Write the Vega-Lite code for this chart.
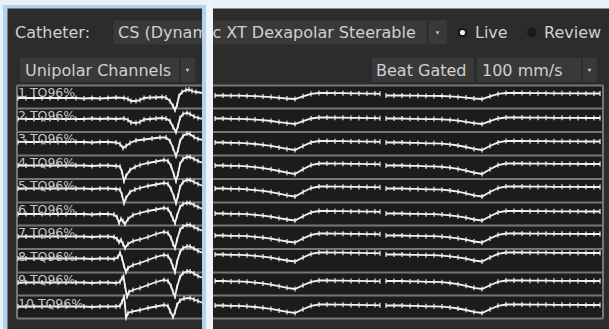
{
  "$schema": "https://vega.github.io/schema/vega-lite/v6.json",
  "width": 609,
  "height": 329,
  "autosize": {"type": "fit", "contains": "padding"},
  "padding": 0,
  "background": "#e9f1f8",
  "config": {"view": {"stroke": null}},
  "datasets": {
    "rects": [
      {"kind": "glow", "x": 3, "x2": 206, "y": 5, "y2": 329},
      {"kind": "panel", "x": 7.5, "x2": 609, "y": 8.5, "y2": 329},
      {"kind": "button", "x": 113.5, "x2": 447, "y": 20.5, "y2": 44.5},
      {"kind": "button", "x": 20, "x2": 195, "y": 58, "y2": 82},
      {"kind": "button", "x": 372, "x2": 474, "y": 58, "y2": 82},
      {"kind": "button", "x": 477, "x2": 597, "y": 58, "y2": 82},
      {"kind": "plot", "x": 17, "x2": 603, "y": 85.5, "y2": 318.5}
    ],
    "strips": [
      {"kind": "glow", "x": 202, "x2": 206, "y": 5, "y2": 329},
      {"kind": "gap", "x": 206, "x2": 213, "y": 0, "y2": 329}
    ],
    "rules": [
      {"kind": "sep", "x": 17, "x2": 603, "y": 85.5, "y2": 85.5},
      {"kind": "sep", "x": 17, "x2": 603, "y": 108.5, "y2": 108.5},
      {"kind": "sep", "x": 17, "x2": 603, "y": 132, "y2": 132},
      {"kind": "sep", "x": 17, "x2": 603, "y": 155.5, "y2": 155.5},
      {"kind": "sep", "x": 17, "x2": 603, "y": 179, "y2": 179},
      {"kind": "sep", "x": 17, "x2": 603, "y": 202.5, "y2": 202.5},
      {"kind": "sep", "x": 17, "x2": 603, "y": 225.5, "y2": 225.5},
      {"kind": "sep", "x": 17, "x2": 603, "y": 249, "y2": 249},
      {"kind": "sep", "x": 17, "x2": 603, "y": 272.5, "y2": 272.5},
      {"kind": "sep", "x": 17, "x2": 603, "y": 295.5, "y2": 295.5},
      {"kind": "sep", "x": 17, "x2": 603, "y": 318.5, "y2": 318.5},
      {"kind": "sep", "x": 17, "x2": 17, "y": 85.5, "y2": 318.5},
      {"kind": "sep", "x": 603, "x2": 603, "y": 85.5, "y2": 318.5},
      {"kind": "btnsep", "x": 427.5, "x2": 427.5, "y": 21, "y2": 44},
      {"kind": "btnsep", "x": 180, "x2": 180, "y": 58.5, "y2": 81.5},
      {"kind": "btnsep", "x": 582, "x2": 582, "y": 58.5, "y2": 81.5}
    ],
    "points": [
      {"kind": "ring", "x": 462.5, "y": 32.5},
      {"kind": "ring", "x": 532, "y": 32.5},
      {"kind": "dot", "x": 462.5, "y": 32.5},
      {"kind": "arrow", "x": 437.5, "y": 33},
      {"kind": "arrow", "x": 187.5, "y": 70.5},
      {"kind": "arrow", "x": 589.5, "y": 70.5}
    ],
    "texts": [
      {"kind": "ui", "text": "Catheter:", "x": 15, "y": 37.5},
      {"kind": "ui", "text": "CS (Dynamic XT Dexapolar Steerable", "x": 118, "y": 37.5},
      {"kind": "ui", "text": "Live", "x": 475, "y": 37.5},
      {"kind": "ui", "text": "Review", "x": 544, "y": 37.5},
      {"kind": "ui", "text": "Unipolar Channels", "x": 25, "y": 75.5},
      {"kind": "ui", "text": "Beat Gated", "x": 376, "y": 75.5},
      {"kind": "ui", "text": "100 mm/s", "x": 482, "y": 75.5},
      {"kind": "chan", "text": "1 TQ96%", "x": 18, "y": 96.5},
      {"kind": "chan", "text": "2 TQ96%", "x": 18, "y": 119.5},
      {"kind": "chan", "text": "3 TQ96%", "x": 18, "y": 143},
      {"kind": "chan", "text": "4 TQ96%", "x": 18, "y": 166.5},
      {"kind": "chan", "text": "5 TQ96%", "x": 18, "y": 189.5},
      {"kind": "chan", "text": "6 TQ96%", "x": 18, "y": 213.5},
      {"kind": "chan", "text": "7 TQ96%", "x": 18, "y": 237},
      {"kind": "chan", "text": "8 TQ96%", "x": 18, "y": 260.5},
      {"kind": "chan", "text": "9 TQ96%", "x": 18, "y": 284},
      {"kind": "chan", "text": "10 TQ96%", "x": 18, "y": 307.5}
    ],
    "traces": [
      {"id": "L1", "xs": [18,26,34,42,50,58,66,76,84,92,100,108,116,124,128,131,136,140,144,150,156,162,166,170,173,175,177,179,182,186,189,192,196,203],
       "ys": [98,98,98,98,98,98,98,98,98.5,98,98.5,98,97.5,98,99,101,101,100,98,97.5,97.5,97,97.5,101,106,110,105,96,92,90,89.5,91,92,93]},
      {"id": "L2", "xs": [18,26,34,42,50,58,66,76,84,92,100,108,116,124,128,131,136,140,144,150,156,162,166,170,173,176,178,180,183,187,190,194,198,203],
       "ys": [119,119,119,119,119,119,119,119,119,118.5,119,118.5,119,118.5,120,122.5,123,122,119.5,119,118.5,118,118.5,121,127,132,126,118,114,113,114,116.5,118,119]},
      {"id": "L3", "xs": [18,26,34,42,50,58,66,76,84,92,100,108,116,120,123,126,130,136,144,152,160,166,170,173,176,178,180,183,187,190,194,198,203],
       "ys": [142,142,142,142,142,142,142,142,142,142.5,142,142,142.5,144,148,146,143,140.5,139.5,138.5,137.5,137.5,141,148,156,150,141,136,133.5,134,137,139,140]},
      {"id": "L4", "xs": [18,26,34,42,50,58,66,76,84,92,100,108,116,120,122,124,126,130,135,140,148,156,164,168,171,174,176,178,180,183,187,190,194,198,203],
       "ys": [165.5,165.5,165.5,165.5,165.5,165.5,165.5,165.5,165.5,166,165.5,165.5,166,166.5,172,181,176,170,167,165,163,161.5,160,161,166,175,181,174,164,159,157,157,159,161,163]},
      {"id": "L5", "xs": [18,26,34,42,50,58,66,76,84,92,100,108,116,120,122,124,126,130,135,140,148,156,164,168,171,174,176,178,180,183,187,190,194,198,203],
       "ys": [188.5,188.5,188.5,188.5,188.5,188.5,188.5,188.5,188.5,189,188.5,188.5,189,189.5,195,203,198,192,189.5,188,186,184.5,183,184,189,197,203,196,187,182,180,180,182,184,186]},
      {"id": "L6", "xs": [18,26,34,42,50,58,66,76,84,92,100,108,114,117,119,121,123,125,128,133,140,148,156,164,168,171,173,175,177,180,183,187,190,194,198,203],
       "ys": [214,214,214,214,214,214,214,214,214,214.5,214,214,214.5,217,223,219,221,224,219,215,213,211,209.5,208,209,214,219,223,216,207,204,203,203,205,207,209]},
      {"id": "L7", "xs": [18,26,34,42,50,58,66,76,84,92,100,108,114,117,119,121,123,125,128,133,140,148,156,164,168,171,173,175,177,180,183,187,190,194,198,203],
       "ys": [236.5,236.5,236.5,236.5,236.5,236.5,236.5,236.5,236.5,237,236.5,236.5,237,239,242,240,244,248,244,241,239.5,237,234,232,233,238,244,248,240,230,226.5,225,225,227,229,231]},
      {"id": "L8", "xs": [18,26,34,42,50,58,66,76,84,92,100,108,114,118,120,122,124,126,128,133,140,148,156,164,168,171,173,175,177,180,183,187,190,194,198,203],
       "ys": [258.5,258.5,258.5,258.5,258.5,258.5,258.5,258.5,258.5,259,258.5,258.5,259,257,253,258,266,272,268,265,263,260,257,255,256,261,267,272,262,252,248,246.5,246.5,248.5,251,253]},
      {"id": "L9", "xs": [18,26,34,42,50,58,66,76,84,92,100,108,116,120,122,123.5,125,127,129,133,140,148,156,164,168,171,173,175,177,180,183,187,190,194,198,203],
       "ys": [282.5,282.5,282.5,282.5,282.5,282.5,282.5,282.5,282.5,283,282.5,282.5,283,282,278,276.5,286,296.5,292,290,288,285,282,280,281,286,292,296.5,287,277,273,271.5,271.5,273.5,276,278]},
      {"id": "L10", "xs": [18,26,34,42,50,58,66,76,84,92,100,108,116,120,122,124,125,126,128,132,140,148,156,164,168,170,173,175,177,180,184,190,194,198,203],
       "ys": [306.5,306.5,306.5,306.5,306.5,306.5,306.5,306.5,306.5,307,306.5,306.5,306.5,306,302,296.5,305,318,313,311.5,310,308,306.5,305,306,311,317,312,305,300.5,298.5,298,299.5,301,303]},
      {"id": "R1a", "xs": [215,223,231,239,247,255,263,271,279,287,295,303,311,319,327,335,343,351,359,367,375,380],
       "ys": [95.5,95.5,95.7,95.7,95.9,96.2,96.6,97.1,97.8,98.5,99,96.3,93.9,93,93,93.2,93.2,93.4,93.4,93.6,93.6,93.8]},
      {"id": "R1b", "xs": [386,394,402,410,418,426,434,442,450,458,466,474,482,490,498,506,514,522,530,538,546,554,562,570,578,586,594,600],
       "ys": [95.5,95.5,95.5,95.7,95.7,95.9,95.9,96,96.4,96.9,97.6,98.5,99,96.3,93.9,93,93,93,93.2,93.2,93.2,93.3,93.3,93.4,93.4,93.5,93.5,93.5]},
      {"id": "R2a", "xs": [215,223,231,239,247,255,263,271,279,287,295,303,311,319,327,335,343,351,359,367,375,380],
       "ys": [118.5,118.5,118.8,118.8,119.1,119.6,120.2,121,122.1,123.2,124,121.1,118.5,117.5,117.5,117.7,117.7,117.9,117.9,118.1,118.1,118.3]},
      {"id": "R2b", "xs": [386,394,402,410,418,426,434,442,450,458,466,474,482,490,498,506,514,522,530,538,546,554,562,570,578,586,594,600],
       "ys": [118.5,118.5,118.5,118.8,118.8,119.1,119.1,119.3,119.9,120.7,121.8,123.2,124,121.1,118.5,117.5,117.5,117.5,117.7,117.7,117.7,117.8,117.8,117.9,117.9,118,118,118]},
      {"id": "R3a", "xs": [215,223,231,239,247,255,263,271,279,287,295,303,311,319,327,335,343,351,359,367,375,380],
       "ys": [142.5,142.5,142.9,142.9,143.3,144,144.8,145.9,147.4,148.9,150,146,142.4,141,141,141.2,141.2,141.4,141.4,141.6,141.6,141.8]},
      {"id": "R3b", "xs": [386,394,402,410,418,426,434,442,450,458,466,474,482,490,498,506,514,522,530,538,546,554,562,570,578,586,594,600],
       "ys": [142.5,142.5,142.5,142.9,142.9,143.3,143.3,143.6,144.4,145.5,147,148.9,150,146,142.4,141,141,141,141.2,141.2,141.2,141.3,141.3,141.4,141.4,141.5,141.5,141.5]},
      {"id": "R4a", "xs": [215,223,231,239,247,255,263,271,279,287,295,303,311,319,327,335,343,351,359,367,375,380],
       "ys": [165.5,165.5,165.9,165.9,166.4,167.2,168.1,169.3,171,172.7,174,169.3,165.1,163.5,163.5,163.7,163.7,163.9,163.9,164.1,164.1,164.3]},
      {"id": "R4b", "xs": [386,394,402,410,418,426,434,442,450,458,466,474,482,490,498,506,514,522,530,538,546,554,562,570,578,586,594,600],
       "ys": [165.5,165.5,165.5,165.9,165.9,166.4,166.4,166.8,167.6,168.9,170.6,172.7,174,169.3,165.1,163.5,163.5,163.5,163.7,163.7,163.7,163.8,163.8,163.9,163.9,164,164,164]},
      {"id": "R5a", "xs": [215,223,231,239,247,255,263,271,279,287,295,303,311,319,327,335,343,351,359,367,375,380],
       "ys": [188.5,188.5,188.9,188.9,189.3,190.1,190.9,192.1,193.7,195.3,196.5,192,188,186.5,186.5,186.7,186.7,186.9,186.9,187.1,187.1,187.3]},
      {"id": "R5b", "xs": [386,394,402,410,418,426,434,442,450,458,466,474,482,490,498,506,514,522,530,538,546,554,562,570,578,586,594,600],
       "ys": [188.5,188.5,188.5,188.9,188.9,189.3,189.3,189.7,190.5,191.7,193.3,195.3,196.5,192,188,186.5,186.5,186.5,186.7,186.7,186.7,186.8,186.8,186.9,186.9,187,187,187]},
      {"id": "R6a", "xs": [215,223,231,239,247,255,263,271,279,287,295,303,311,319,327,335,343,351,359,367,375,380],
       "ys": [213.5,213.5,213.9,213.9,214.2,214.9,215.6,216.7,218.1,219.5,220.5,216.2,212.4,211,211,211.2,211.2,211.4,211.4,211.6,211.6,211.8]},
      {"id": "R6b", "xs": [386,394,402,410,418,426,434,442,450,458,466,474,482,490,498,506,514,522,530,538,546,554,562,570,578,586,594,600],
       "ys": [213.5,213.5,213.5,213.9,213.9,214.2,214.2,214.6,215.3,216.3,217.7,219.5,220.5,216.2,212.4,211,211,211,211.2,211.2,211.2,211.3,211.3,211.4,211.4,211.5,211.5,211.5]},
      {"id": "R7a", "xs": [215,223,231,239,247,255,263,271,279,287,295,303,311,319,327,335,343,351,359,367,375,380],
       "ys": [235.5,235.5,235.9,235.9,236.2,236.9,237.6,238.7,240.1,241.5,242.5,238.5,234.9,233.5,233.5,233.7,233.7,233.9,233.9,234.1,234.1,234.3]},
      {"id": "R7b", "xs": [386,394,402,410,418,426,434,442,450,458,466,474,482,490,498,506,514,522,530,538,546,554,562,570,578,586,594,600],
       "ys": [235.5,235.5,235.5,235.9,235.9,236.2,236.2,236.6,237.3,238.3,239.7,241.5,242.5,238.5,234.9,233.5,233.5,233.5,233.7,233.7,233.7,233.8,233.8,233.9,233.9,234,234,234]},
      {"id": "R8a", "xs": [215,223,231,239,247,255,263,271,279,287,295,303,311,319,327,335,343,351,359,367,375,380],
       "ys": [254.5,254.5,254.9,254.9,255.2,255.9,256.6,257.7,259.1,260.5,261.5,257.5,253.9,252.5,252.5,252.7,252.7,252.9,252.9,253.1,253.1,253.3]},
      {"id": "R8b", "xs": [386,394,402,410,418,426,434,442,450,458,466,474,482,490,498,506,514,522,530,538,546,554,562,570,578,586,594,600],
       "ys": [254.5,254.5,254.5,254.9,254.9,255.2,255.2,255.6,256.3,257.3,258.7,260.5,261.5,257.5,253.9,252.5,252.5,252.5,252.7,252.7,252.7,252.8,252.8,252.9,252.9,253,253,253]},
      {"id": "R9a", "xs": [215,223,231,239,247,255,263,271,279,287,295,303,311,319,327,335,343,351,359,367,375,380],
       "ys": [281,281,281.4,281.4,281.8,282.6,283.4,284.6,286.2,287.8,289,285.2,281.8,280.5,280.5,280.7,280.7,280.9,280.9,281.1,281.1,281.3]},
      {"id": "R9b", "xs": [386,394,402,410,418,426,434,442,450,458,466,474,482,490,498,506,514,522,530,538,546,554,562,570,578,586,594,600],
       "ys": [281,281,281,281.4,281.4,281.8,281.8,282.2,283,284.2,285.8,287.8,289,285.2,281.8,280.5,280.5,280.5,280.7,280.7,280.7,280.8,280.8,280.9,280.9,281,281,281]},
      {"id": "R10a", "xs": [215,223,231,239,247,255,263,271,279,287,295,303,311,319,327,335,343,351,359,367,375,380],
       "ys": [305.5,305.5,305.9,305.9,306.3,307,307.8,308.9,310.4,311.9,313,309.2,305.8,304.5,304.5,304.7,304.7,304.9,304.9,305.1,305.1,305.3]},
      {"id": "R10b", "xs": [386,394,402,410,418,426,434,442,450,458,466,474,482,490,498,506,514,522,530,538,546,554,562,570,578,586,594,600],
       "ys": [305.5,305.5,305.5,305.9,305.9,306.3,306.3,306.6,307.4,308.5,310,311.9,313,309.2,305.8,304.5,304.5,304.5,304.7,304.7,304.7,304.8,304.8,304.9,304.9,305,305,305]}
    ]
  },
  "encoding": {
    "x": {"field": "x", "type": "quantitative", "scale": {"domain": [0, 609], "nice": false, "zero": false}, "axis": null},
    "y": {"field": "y", "type": "quantitative", "scale": {"domain": [0, 329], "reverse": true, "nice": false, "zero": false}, "axis": null},
    "color": {
      "field": "kind", "type": "nominal", "legend": null,
      "scale": {
        "domain": ["glow", "gap", "panel", "button", "plot", "sep", "btnsep", "ui", "chan", "ring", "dot", "arrow"],
        "range": ["#b5d1eb", "#edf3f9", "#2c2c2c", "#393939", "#1c1c1c", "#767676", "#282828", "#d0d0d0", "#c4c4c4", "#1a1a1a", "#f4f4f4", "#bdbdbd"]
      }
    }
  },
  "layer": [
    {
      "data": {"name": "rects"},
      "mark": {"type": "rect", "strokeWidth": 0},
      "encoding": {"x2": {"field": "x2"}, "y2": {"field": "y2"}}
    },
    {
      "data": {"name": "rules"},
      "transform": [{"filter": "datum.kind === 'sep'"}],
      "mark": {"type": "rule", "strokeWidth": 2},
      "encoding": {"x2": {"field": "x2"}, "y2": {"field": "y2"}}
    },
    {
      "data": {"name": "rules"},
      "transform": [{"filter": "datum.kind === 'btnsep'"}],
      "mark": {"type": "rule", "strokeWidth": 1.5},
      "encoding": {"x2": {"field": "x2"}, "y2": {"field": "y2"}}
    },
    {
      "data": {"name": "traces"},
      "transform": [{"flatten": ["xs", "ys"], "as": ["x", "y"]}],
      "mark": {"type": "line", "strokeWidth": 1.8, "color": "#f2f2f2"},
      "encoding": {"detail": {"field": "id", "type": "nominal"}, "color": {"value": "#f2f2f2"}}
    },
    {
      "data": {"name": "traces"},
      "transform": [{"flatten": ["xs", "ys"], "as": ["x", "y"]}],
      "mark": {"type": "tick", "orient": "vertical", "size": 5, "thickness": 1.3, "opacity": 0.9},
      "encoding": {"color": {"value": "#f2f2f2"}}
    },
    {
      "data": {"name": "texts"},
      "transform": [{"filter": "datum.kind === 'ui'"}],
      "mark": {"type": "text", "align": "left", "baseline": "alphabetic", "font": "DejaVu Sans", "fontSize": 16},
      "encoding": {"text": {"field": "text", "type": "nominal"}}
    },
    {
      "data": {"name": "texts"},
      "transform": [{"filter": "datum.kind === 'chan'"}],
      "mark": {"type": "text", "align": "left", "baseline": "alphabetic", "font": "DejaVu Sans", "fontSize": 12.5},
      "encoding": {"text": {"field": "text", "type": "nominal"}}
    },
    {
      "data": {"name": "points"},
      "transform": [{"filter": "datum.kind === 'ring'"}],
      "mark": {"type": "point", "shape": "circle", "filled": true, "size": 95, "opacity": 1}
    },
    {
      "data": {"name": "points"},
      "transform": [{"filter": "datum.kind === 'dot'"}],
      "mark": {"type": "point", "shape": "circle", "filled": true, "size": 26, "opacity": 1}
    },
    {
      "data": {"name": "points"},
      "transform": [{"filter": "datum.kind === 'arrow'"}],
      "mark": {"type": "point", "shape": "triangle-down", "filled": true, "size": 16, "opacity": 1}
    },
    {
      "data": {"name": "strips"},
      "mark": {"type": "rect", "strokeWidth": 0},
      "encoding": {"x2": {"field": "x2"}, "y2": {"field": "y2"}}
    }
  ]
}
